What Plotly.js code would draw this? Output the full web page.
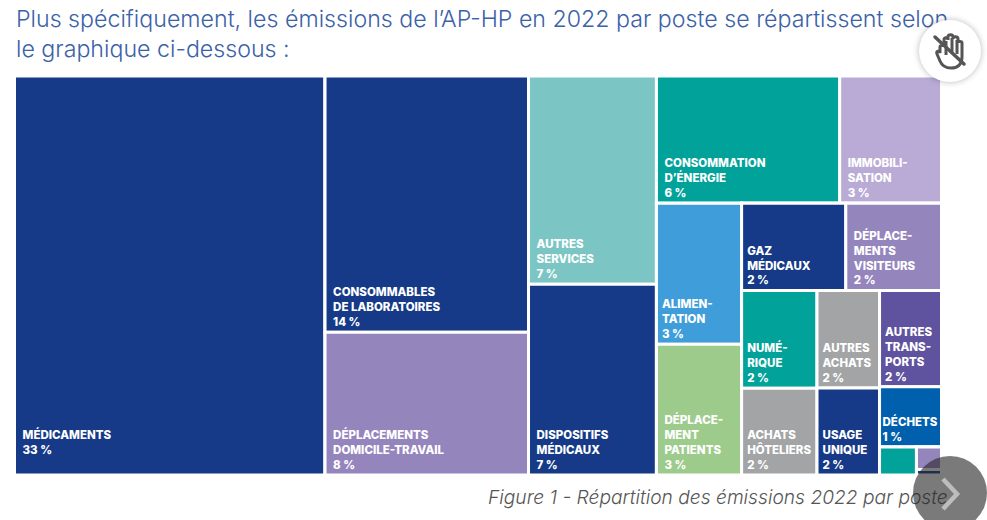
<!DOCTYPE html>
<html><head><meta charset="utf-8">
<script src="https://cdn.plot.ly/plotly-3.0.1.min.js"></script>
<style>
html,body{margin:0;padding:0;background:#fff;overflow:hidden}
#chart{position:absolute;left:0;top:0;width:987px;height:520px}
.btn{position:absolute;border-radius:50%}
#hand{left:919px;top:20px;width:62px;height:62px;background:#fff;box-shadow:0 0 6px rgba(0,0,0,.28)}
#next{left:913px;top:456px;width:74px;height:74px;background:rgba(40,40,40,.62)}
</style></head><body>
<div id="chart"></div>
<div class="btn" id="hand"><svg width="62" height="62" viewBox="0 0 62 62">
<path d="M21 33V27c0-2 4-2 4 0v-7c0-3 4-3 4 0v-3c0-3 5-3 5 0v2c0-3 5-3 5 0v4c0-2 4-2 4 0v14c0 8-5 11-11 11s-9-2-11-7l-3-7c-1-3 2-4 3-1z" fill="#fff" stroke="#555" stroke-width="3"/>
<path d="M27 21v14M33 18v14M38 20v14" stroke="#555" stroke-width="3"/>
<path d="M16 17 45 44" stroke="#555" stroke-width="3.5" stroke-linecap="round"/></svg></div>
<div class="btn" id="next"><svg width="74" height="74" viewBox="0 0 74 74"><path d="M30 23 44 38 30 53" fill="none" stroke="#bdbdbd" stroke-width="4.5"/></svg></div>
<script>
const ids = ["root","med","c2","labo","ddt","c3","serv","dm","r","t","ener","immo","b","b1","alim","dpat","b2","u","gaz","dvis","l","l1","num","hot","l2","aach","uu","l3","atr","dech","sx","st","sp","sv","sn"];
const parents = ["","root","root","c2","c2","root","c3","c3","root","r","t","t","r","b","b1","b1","b","b2","u","u","b2","l","l1","l1","l","l2","l2","l","l3","l3","l3","sx","sx","sp","sp"];
const names = ["","MÉDICAMENTS|33 %|","","CONSOMMABLES|DE LABORATOIRES|14 %","DÉPLACEMENTS|DOMICILE-TRAVAIL|8 %","","AUTRES|SERVICES|7 %","DISPOSITIFS|MÉDICAUX|7 %","","","CONSOMMATION|D’ÉNERGIE|6 %","IMMOBILI-|SATION|3 %","","","ALIMEN-|TATION|3 %","DÉPLACE-|MENT|PATIENTS|3 %","","","GAZ|MÉDICAUX|2 %","DÉPLACE-|MENTS|VISITEURS|2 %","","","NUMÉ-|RIQUE|2 %","ACHATS|HÔTELIERS|2 %","","AUTRES|ACHATS|2 %","USAGE|UNIQUE|2 %","","AUTRES|TRANS-|PORTS|2 %","DÉCHETS|1 %","","","","",""];
const indents = [0,2,0,2,2,0,2,2,0,0,2,2,0,0,1,2,0,0,1,2,0,0,1,1,0,1,1,0,1,0,0,0,0,0,0];
const values = [0,33.5,0,14.1,7.85,0,7.2,6.6,0,0,6.3,3.5,0,0,3.25,3.01,0,0,2.46,2.26,0,0,1.99,1.77,0,1.65,1.47,0,1.61,1.01,0,0.28,0,0.153,0.037];
const clear = "rgba(0,0,0,0)";
const colors = [clear,"#163a87",clear,"#163a87","#9585bd",clear,"#7bc6c4","#163a87",clear,clear,"#00a29a","#b9abd5",clear,clear,"#3f9dd9","#9dcb8c",clear,clear,"#163a87","#9585bd",clear,clear,"#00a29a","#a2a4a6",clear,"#a2a4a6","#163a87",clear,"#5f529e","#0060ae",clear,"#00a29a",clear,"#9585bd","#163a87"];
const titleText = "Plus spécifiquement, les émissions de l’AP-HP en 2022 par poste se répartissent selon<br>le graphique ci-dessous :";
const captionText = "Figure 1 - Répartition des émissions 2022 par poste";
const labels = names.map((n,i)=>n?n.split("|").map(s=>"\u00a0".repeat(indents[i])+s).join("<br>"):"");
const labelFont = {family:"Inter",size:11.5,color:"#fff",weight:800};
Plotly.newPlot("chart",[{
  type:"treemap", ids:ids, parents:parents, labels:ids, values:values, text:labels,
  branchvalues:"remainder", sort:false, textinfo:"text", textposition:"bottom left",
  hoverinfo:"skip",
  tiling:{packing:"slice-dice",pad:0},
  pathbar:{visible:false},
  marker:{colors:colors,depthfade:false,pad:{t:0,l:0,r:0,b:0},line:{color:"#fff",width:3}},
  textfont:labelFont,
  insidetextfont:labelFont,
  domain:{x:[14.5/987,941.5/987],y:[45/520,444/520]}
}],{
  width:987,height:520,margin:{l:0,r:0,t:0,b:0},paper_bgcolor:"#fff",showlegend:false,
  annotations:[
   {text:titleText,xref:"paper",yref:"paper",x:15/987,y:1-3/520,xanchor:"left",yanchor:"top",align:"left",showarrow:false,xshift:-1,font:{family:"Inter",size:23.2,weight:300,color:"#3b62a8"}},
   {text:captionText,xref:"paper",yref:"paper",x:950/987,y:1-497/520,xanchor:"right",yanchor:"middle",showarrow:false,font:{family:"Inter",size:19.2,style:"italic",weight:300,color:"#555"}}]
},{displayModeBar:false,staticPlot:true});
</script></body></html>
